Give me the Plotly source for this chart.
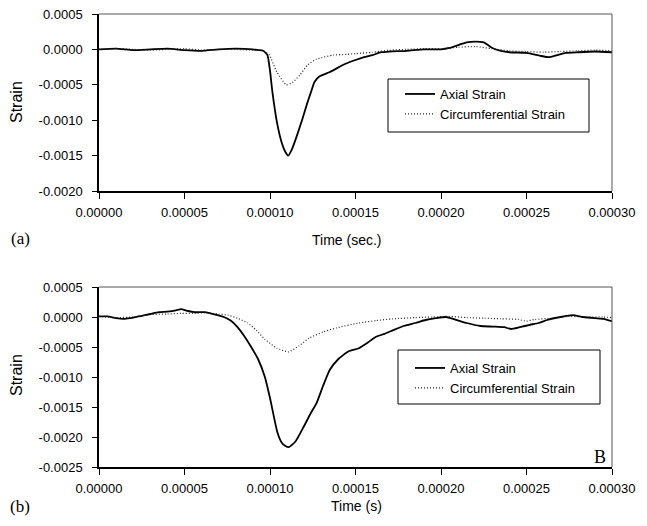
import plotly.graph_objects as go

# ---------------- data (time in units of 1e-5 s, strain) ----------------
a_axial_t = [0, 1, 2, 3, 4, 5, 6, 7, 8, 9, 9.3, 9.6, 9.85, 10.0, 10.14, 10.43, 10.7, 10.9, 11.06,
             11.3, 11.6, 11.9, 12.15, 12.4, 12.6, 12.9, 13.5, 14.35, 15.0, 15.5, 16.0, 16.5, 17.0,
             18.0, 19.0, 20.0, 20.5, 21.0, 21.5, 22.0, 22.5, 23.0, 23.5, 24.0, 25.0, 25.8, 26.3,
             26.8, 27.3, 28.0, 29.0, 30.0]
a_axial_v = [0.0, 0.00001, -0.00001, 0.0, 0.00001, -0.00001, -0.00002, 0.0, 0.00001, 0.0, -0.00001,
             -0.00002, -0.00008, -0.0003, -0.0006, -0.00106, -0.00133, -0.00145, -0.0015, -0.0014,
             -0.0012, -0.00098, -0.00078, -0.0006, -0.00046, -0.00038, -0.00032, -0.00021, -0.00015,
             -0.00011, -0.00008, -0.00004, -0.00003, -0.00002, 0.0, 0.0, 0.00002, 0.00006, 0.0001,
             0.00011, 0.0001, 0.00002, -0.00002, -0.00004, -0.00005, -0.00009, -0.00011, -0.00008,
             -0.00005, -0.00004, -0.00003, -0.00004]

a_circ_t = [0, 1, 2, 3, 4, 5, 6, 7, 8, 9, 9.6, 9.96, 10.4, 10.95, 11.3, 11.75, 12.2, 12.7, 13.7,
            14.5, 15.0, 16.0, 17.0, 18.0, 19.0, 20.0, 21.0, 22.0, 23.0, 24.0, 25.0, 26.0, 27.0,
            28.0, 29.0, 30.0]
a_circ_v = [0.0, 0.00001, 0.0, -0.00001, 0.0, 0.00001, -0.00001, 0.0, 0.0, -0.00001, -0.00002,
            -0.00008, -0.00032, -0.0005, -0.00047, -0.00036, -0.00022, -0.00014, -0.00008,
            -0.00007, -0.00006, -0.00004, -0.00001, 0.0, 0.00001, 0.00001, 0.00003, 0.00004,
            0.00001, -0.00002, -0.00003, -0.00004, -0.00003, -0.00002, -0.00001, -0.00002]

b_axial_t = [0, 0.5, 1.0, 1.5, 2.0, 2.5, 3.0, 3.5, 4.0, 4.5, 4.8, 5.2, 5.6, 6.2, 6.8, 7.3, 7.7, 8.1,
             8.5, 8.9, 9.3, 9.7, 10.0, 10.43, 10.7, 10.9, 11.1, 11.5, 11.97, 12.35, 12.73, 13.1, 13.5,
             14.0, 14.6, 15.2, 15.7, 16.2, 16.7, 17.2, 17.8, 18.5, 19.1, 19.7, 20.3, 20.8, 21.5,
             22.3, 23.0, 23.7, 24.1, 24.6, 25.2, 25.7, 26.2, 27.0, 27.7, 28.3, 29.0, 29.5, 30.0]
b_axial_v = [0.00001, 0.00001, -0.00002, -0.00003, -0.00001, 0.00002, 0.00005, 0.00008, 0.00009,
             0.00011, 0.00013, 0.0001, 0.00008, 0.00008, 0.00004, 0.0, -0.00006, -0.00017, -0.00032,
             -0.0005, -0.0007, -0.001, -0.00135, -0.00192, -0.0021, -0.00215, -0.00217, -0.00207,
             -0.00183, -0.00162, -0.00143, -0.00115, -0.00088, -0.0007, -0.00057, -0.00052,
             -0.00043, -0.00033, -0.00028, -0.00022, -0.00015, -0.0001, -0.00005, -0.00002, 0.0,
             -0.00004, -0.0001, -0.00015, -0.00016, -0.00017, -0.0002, -0.00017, -0.00013, -0.0001,
             -0.00005, 0.0, 0.00003, 0.0, -0.00002, -0.00003, -0.00007]

b_circ_t = [0, 1, 2, 3, 4, 4.8, 5.5, 6.2, 7.0, 7.55, 8.1, 8.7, 9.2, 9.7, 10.4, 11.1, 11.7, 12.3,
            13.1, 13.9, 15.2, 16.2, 17.2, 18.5, 19.5, 20.5, 21.5, 22.5, 23.5, 24.5, 25.0, 25.5,
            26.5, 27.5, 28.5, 29.5, 30.0]
b_circ_v = [0.00001, -0.00001, 0.0, 0.00004, 0.00005, 0.00006, 0.00006, 0.00007, 0.00005, 0.00003,
            -0.00002, -0.0001, -0.00022, -0.00037, -0.00052, -0.00058, -0.00048, -0.00035,
            -0.00025, -0.00018, -0.0001, -0.00006, -0.00003, -0.00001, 0.0, 0.00001, -0.00001,
            -0.00002, -0.00003, -0.00004, -0.00007, -0.00004, -0.00002, 0.00001, 0.0, 0.0,
            -0.00001]

x_tickvals = [0.0, 0.00005, 0.00010, 0.00015, 0.00020, 0.00025, 0.00030]
x_ticktext = ["0.00000", "0.00005", "0.00010", "0.00015", "0.00020", "0.00025", "0.00030"]
ya_tickvals = [0.0005, 0.0, -0.0005, -0.0010, -0.0015, -0.0020]
ya_ticktext = ["0.0005", "0.0000", "-0.0005", "-0.0010", "-0.0015", "-0.0020"]
yb_tickvals = [0.0005, 0.0, -0.0005, -0.0010, -0.0015, -0.0020, -0.0025]
yb_ticktext = ["0.0005", "0.0000", "-0.0005", "-0.0010", "-0.0015", "-0.0020", "-0.0025"]

series_names = ["Axial Strain", "Circumferential Strain"]

# ---------------- figure ----------------
OFF = 8  # page body margin in the browser
W, H = 647 - 2 * OFF, 526 - 2 * OFF
SANS = "Liberation Sans, Arial, Helvetica, sans-serif"
SERIF = "Liberation Serif, Times New Roman, serif"


def px(xp):
    return (xp - OFF) / W


def py(yp):
    return (H - (yp - OFF)) / H


def sec(ts):
    return [t * 1e-5 for t in ts]


fig = go.Figure()

axial_line = dict(color="black", width=1.8, shape="spline", smoothing=0.5)
circ_line = dict(color="#222222", width=1.2, dash="1px,2px", shape="spline", smoothing=0.5)

fig.add_trace(go.Scatter(x=sec(a_axial_t), y=a_axial_v, mode="lines", name=series_names[0],
                         line=axial_line, xaxis="x", yaxis="y", legend="legend"))
fig.add_trace(go.Scatter(x=sec(a_circ_t), y=a_circ_v, mode="lines", name=series_names[1],
                         line=circ_line, xaxis="x", yaxis="y", legend="legend"))
fig.add_trace(go.Scatter(x=sec(b_axial_t), y=b_axial_v, mode="lines", name=series_names[0],
                         line=axial_line, xaxis="x2", yaxis="y2", legend="legend2"))
fig.add_trace(go.Scatter(x=sec(b_circ_t), y=b_circ_v, mode="lines", name=series_names[1],
                         line=circ_line, xaxis="x2", yaxis="y2", legend="legend2"))

XL, XR = 99, 612
xdom = [px(XL), px(XR)]
ydom_a = [py(191), py(14)]
ydom_b = [py(467), py(287)]

tickfont = dict(family=SANS, size=13, color="black")
xcommon = dict(range=[0, 0.0003], tickvals=x_tickvals, ticktext=x_ticktext, ticks="outside",
               ticklen=6, tickwidth=1.3, tickcolor="black", showline=True, linecolor="black",
               linewidth=1.5, showgrid=False, zeroline=False, tickfont=tickfont, automargin=False,
               domain=xdom, ticklabelstandoff=3, ticklabeloverflow="allow")
ycommon = dict(ticks="outside", ticklen=5, tickwidth=1.3, tickcolor="black", showline=True,
               linecolor="black", linewidth=1.5, showgrid=False, zeroline=False, tickfont=tickfont,
               automargin=False, ticklabelstandoff=7, ticklabeloverflow="allow")

legfont = dict(family=SANS, size=13, color="black")
fig.update_layout(
    width=W, height=H, autosize=False,
    margin=dict(l=0, r=0, t=0, b=0),
    paper_bgcolor="white", plot_bgcolor="white",
    xaxis=dict(**xcommon, anchor="y"),
    yaxis=dict(**ycommon, range=[-0.002, 0.0005], tickvals=ya_tickvals, ticktext=ya_ticktext,
               domain=ydom_a, anchor="x"),
    xaxis2=dict(**xcommon, anchor="y2"),
    yaxis2=dict(**ycommon, range=[-0.0025, 0.0005], tickvals=yb_tickvals, ticktext=yb_ticktext,
                domain=ydom_b, anchor="x2"),
    legend=dict(x=px(400), y=py(79), xanchor="left", yanchor="top", bgcolor="rgba(0,0,0,0)",
                borderwidth=0, font=legfont, tracegroupgap=0),
    legend2=dict(x=px(410), y=py(353), xanchor="left", yanchor="top", bgcolor="rgba(0,0,0,0)",
                 borderwidth=0, font=legfont, tracegroupgap=0),
)

shapes = []
# top / right frame lines (thin gray) for each panel
for (x0, x1, y0, y1) in [(XL, XR, 14, 191), (XL, XR, 287, 467)]:
    shapes.append(dict(type="line", xref="paper", yref="paper", x0=px(x0), x1=px(x1),
                       y0=py(y0), y1=py(y0), line=dict(color="#555555", width=1)))
    shapes.append(dict(type="line", xref="paper", yref="paper", x0=px(x1), x1=px(x1),
                       y0=py(y0), y1=py(y1), line=dict(color="#555555", width=1)))
# legend boxes
shapes.append(dict(type="rect", xref="paper", yref="paper", x0=px(388), x1=px(589),
                   y0=py(132), y1=py(79), line=dict(color="black", width=1)))
shapes.append(dict(type="rect", xref="paper", yref="paper", x0=px(398), x1=px(600),
                   y0=py(404), y1=py(350), line=dict(color="black", width=1)))
fig.update_layout(shapes=shapes)

ann = [
    dict(text="Strain", x=px(16), y=py(102), textangle=-90, font=dict(family=SANS, size=16)),
    dict(text="Strain", x=px(16), y=py(375), textangle=-90, font=dict(family=SANS, size=16)),
    dict(text="Time (sec.)", x=px(346), y=py(240), font=dict(family=SANS, size=14)),
    dict(text="Time (s)", x=px(356), y=py(506), font=dict(family=SANS, size=14)),
    dict(text="(a)", x=px(20), y=py(239), font=dict(family=SERIF, size=17)),
    dict(text="(b)", x=px(20), y=py(506), font=dict(family=SERIF, size=17)),
    dict(text="B", x=px(600), y=py(457), font=dict(family=SERIF, size=18)),
]
for a in ann:
    a.update(xref="paper", yref="paper", showarrow=False, xanchor="center", yanchor="middle")
    a["font"]["color"] = "black"
fig.update_layout(annotations=ann)

fig.write_html("out.html")
